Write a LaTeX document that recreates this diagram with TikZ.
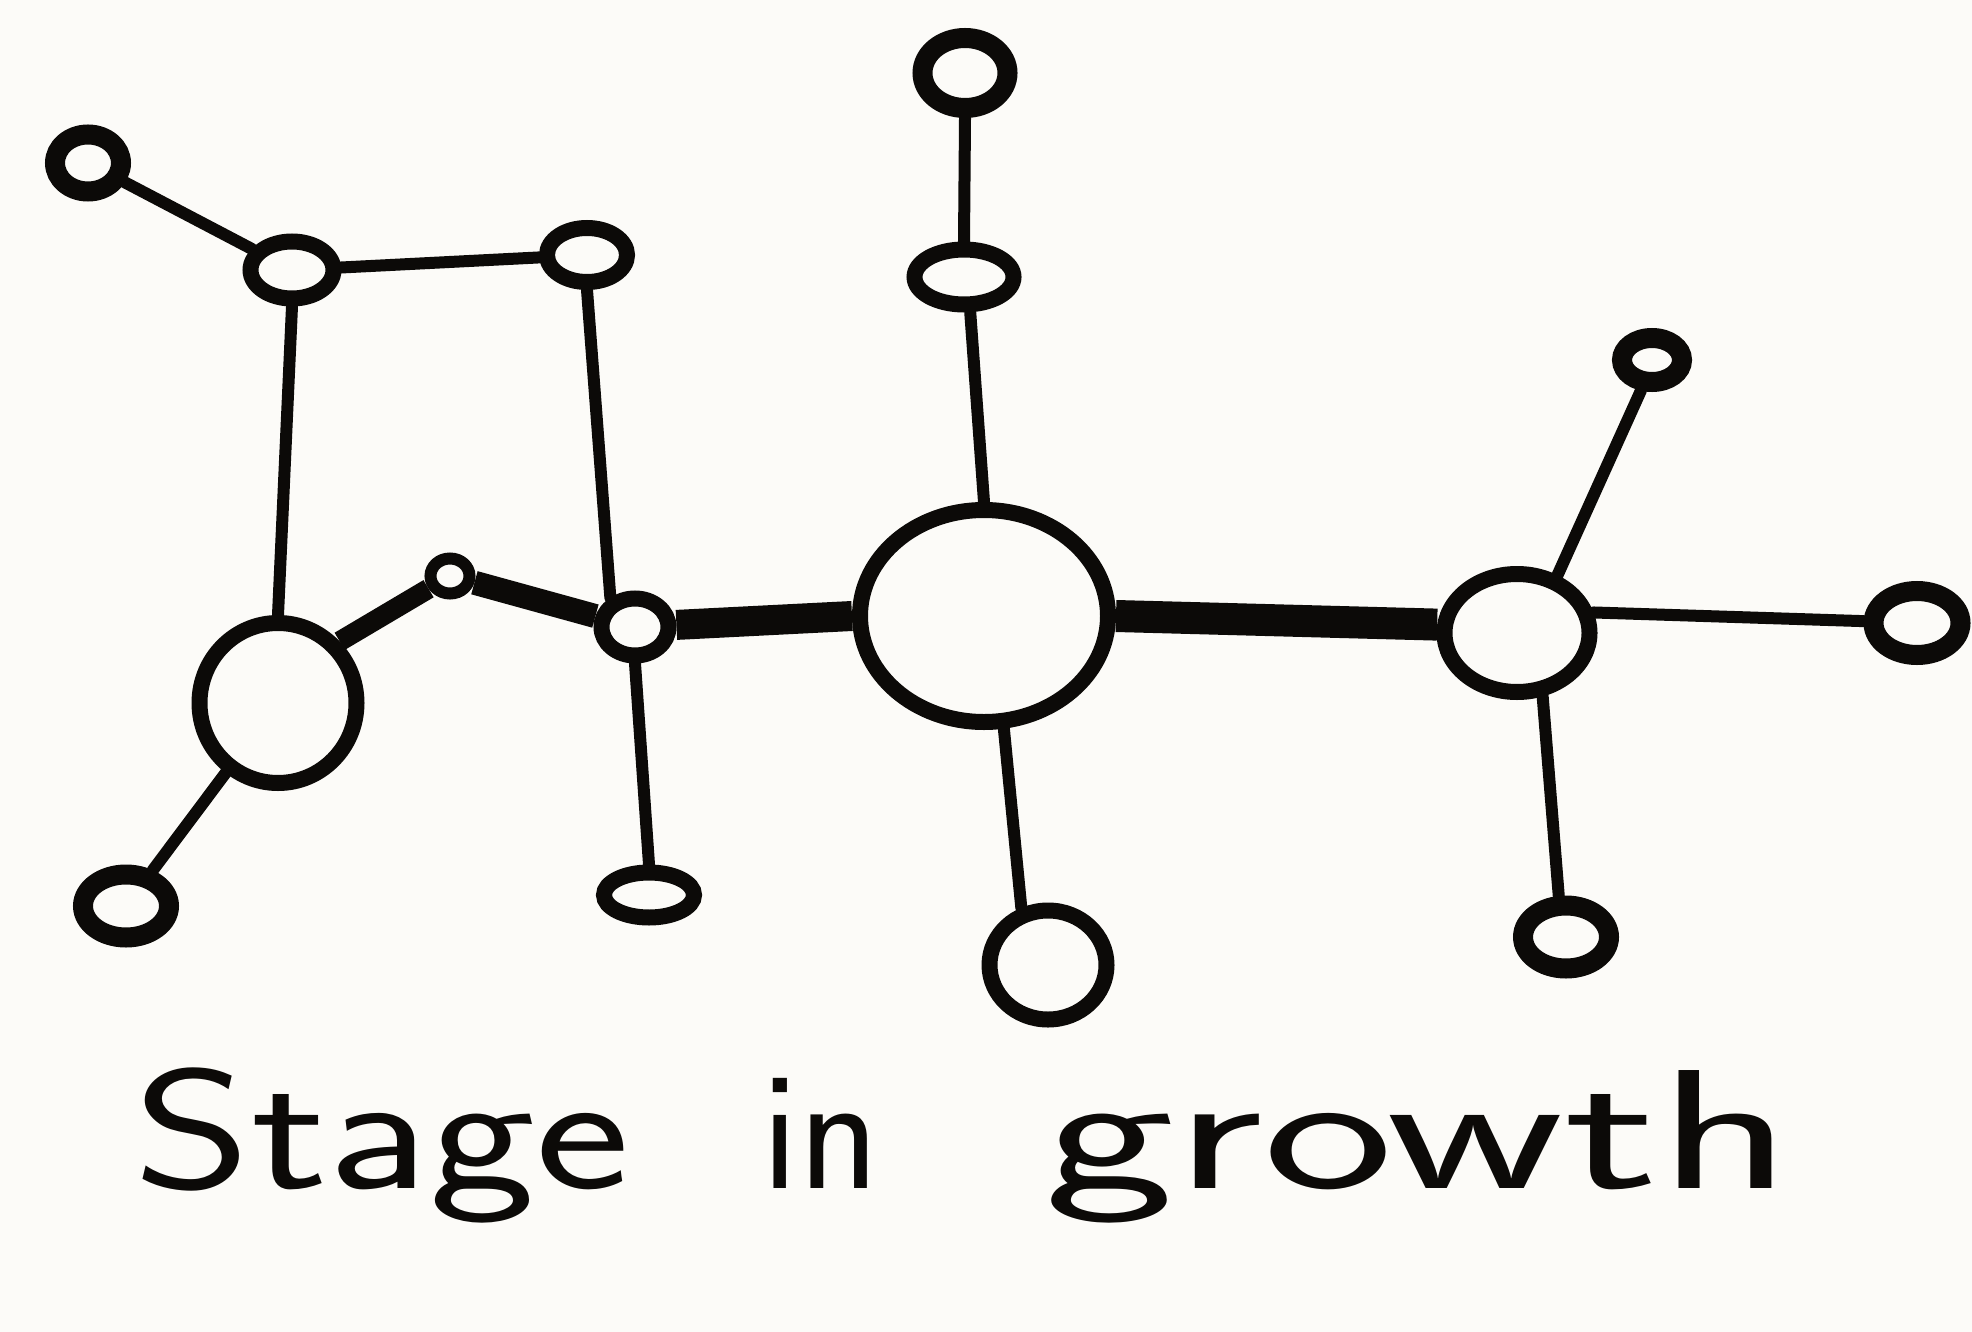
\documentclass[tikz,border=0pt]{standalone}
\usepackage{tikz}
\usepackage{graphicx}
\usetikzlibrary{shapes.geometric}

\definecolor{paper}{RGB}{252,251,248}
\definecolor{ink}{RGB}{12,10,8}

\tikzset{
  ring/.style={ellipse, draw=ink, line width=16pt, inner sep=0pt},
  bead/.style={ring, line width=20pt},
  twig/.style={draw=ink, line width=12pt, line cap=round},
  trunk/.style={draw=ink, line width=#1},
  word/.style={anchor=base west, inner sep=0pt, text=ink,
    font=\sffamily\fontsize{170}{170}\selectfont},
}
\newcommand{\stretchword}[2]{\resizebox{#1}{\height}{#2}}

\begin{document}
\begin{tikzpicture}[x=1pt, y=-1pt]
\fill[paper] (0,0) rectangle (1972,1332);
\useasboundingbox (0,0) rectangle (1972,1332);

% outer rings
\node[bead, minimum width=66pt, minimum height=57pt] (a) at (88,163) {};
\node[ring, minimum width=83pt, minimum height=57pt] (b) at (292,270) {};
\node[ring, minimum width=80pt, minimum height=54pt] (c) at (587,255) {};
\node[bead, minimum width=85pt, minimum height=70pt] (d) at (965,73) {};
\node[ring, minimum width=99pt, minimum height=55pt] (e) at (964,277) {};
\node[bead, minimum width=60pt, minimum height=44pt] (k) at (1652,360) {};
\node[bead, minimum width=87pt, minimum height=64pt] (l) at (1917,623) {};
\node[bead, minimum width=86pt, minimum height=63pt] (m) at (126,906) {};
\node[ring, minimum width=90pt, minimum height=45pt] (n) at (649,895) {};
\node[ring, minimum width=117pt, minimum height=109pt] (o) at (1048,965) {};
\node[bead, minimum width=86pt, minimum height=63pt] (p) at (1566,937) {};

% main chain
\node[ring, minimum width=157pt, minimum height=160pt] (f) at (278,703) {};
\node[ring, line width=12pt, minimum width=39pt, minimum height=35pt] (g) at (450,576) {};
\node[ring, minimum width=67pt, minimum height=57pt] (h) at (635,627) {};
\node[ring, minimum width=248pt, minimum height=212pt] (i) at (984,616) {};
\node[ring, minimum width=145pt, minimum height=118pt] (j) at (1517,633) {};

% thin links
\draw[twig] (a) -- (b);
\draw[twig] (b) -- (c);
\draw[twig] (b.south) -- (f.north);
\draw[twig] (c.south) -- (h.130);
\draw[twig] (d.south) -- (e.north);
\draw[twig] (e.-80) -- (i.north);
\draw[twig] (i.-80) -- (o.115);
\draw[twig] (j.55) -- (k.-110);
\draw[twig] (j.15) -- (l.178);
\draw[twig] (j.-68) -- (p.100);
\draw[twig] (f) -- (m);
\draw[twig] (h.south) -- (n.north);

% thick links
\draw[trunk=20pt] (f.45) -- (g);
\draw[trunk=24pt] (g) -- (h);
\draw[trunk=30pt] (h) -- (i.west);
\draw[trunk=32pt] (i.east) -- (j.174);

% caption
\node[word] (w1) at (133,1188) {\stretchword{497pt}{Stage}};
\node[word] (w2) at (761,1188) {\stretchword{119pt}{in}};
\node[word] (w3) at (1044,1188) {\stretchword{748pt}{growth}};
\end{tikzpicture}
\end{document}
